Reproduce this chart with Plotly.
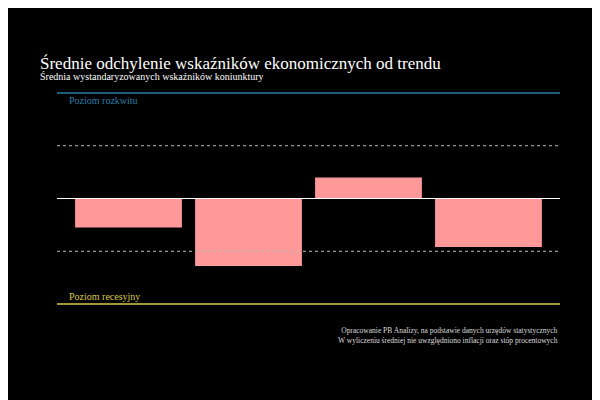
import plotly.graph_objects as go

categories = [0, 1, 2, 3]
values = [-0.55, -1.28, 0.4, -0.92]
boom_level = 2
recession_level = -2
dotted_levels = [1, -1]

fig = go.Figure()
fig.add_trace(go.Bar(x=categories, y=values, marker=dict(color="#ff9999", line=dict(width=0)), width=0.89))

F = "Liberation Serif"
fig.add_hline(y=boom_level, line=dict(color="#2a7fa8", width=1.5))
fig.add_hline(y=recession_level, line=dict(color="#d9c84a", width=1.5))
fig.add_hline(y=0, line=dict(color="#ffffff", width=1))
for d in dotted_levels:
    fig.add_hline(y=d, line=dict(color="#bbbbbb", width=1, dash="dot"))
fig.add_annotation(x=0.02, xref="paper", y=boom_level, yref="y", text="Poziom rozkwitu",
                   showarrow=False, xanchor="left", yanchor="top", font=dict(family=F, size=10, color="#2a7fa8"))
fig.add_annotation(x=0.02, xref="paper", y=recession_level, yref="y", text="Poziom recesyjny",
                   showarrow=False, xanchor="left", yanchor="bottom", font=dict(family=F, size=10, color="#d9c84a"))
fig.add_annotation(x=1, xref="paper", y=0, yref="paper", yshift=-12, align="right",
                   text="Opracowanie PB Analizy, na podstawie danych urzędów statystycznych<br>W wyliczeniu średniej nie uwzględniono inflacji oraz stóp procentowych",
                   showarrow=False, xanchor="right", yanchor="top", font=dict(family=F, size=7.5, color="#dddddd"))
fig.add_annotation(x=0, xref="paper", y=1, yref="paper", xshift=-19, yshift=22,
                   text="Średnie odchylenie wskaźników ekonomicznych od trendu",
                   showarrow=False, xanchor="left", yanchor="middle", font=dict(family=F, size=17, color="white"))
fig.add_annotation(x=0, xref="paper", y=1, yref="paper", xshift=-19, yshift=9,
                   text="Średnia wystandaryzowanych wskaźników koniunktury",
                   showarrow=False, xanchor="left", yanchor="middle", font=dict(family=F, size=10, color="white"))

fig.update_layout(
    width=600, height=400, paper_bgcolor="black", plot_bgcolor="black",
    margin=dict(l=49, r=48, t=77, b=96),
    showlegend=False,
    xaxis=dict(range=[-0.596, 3.596], visible=False, fixedrange=True),
    yaxis=dict(range=[-2.15, 2.15], visible=False, fixedrange=True),
)
fig.write_html("out.html")
